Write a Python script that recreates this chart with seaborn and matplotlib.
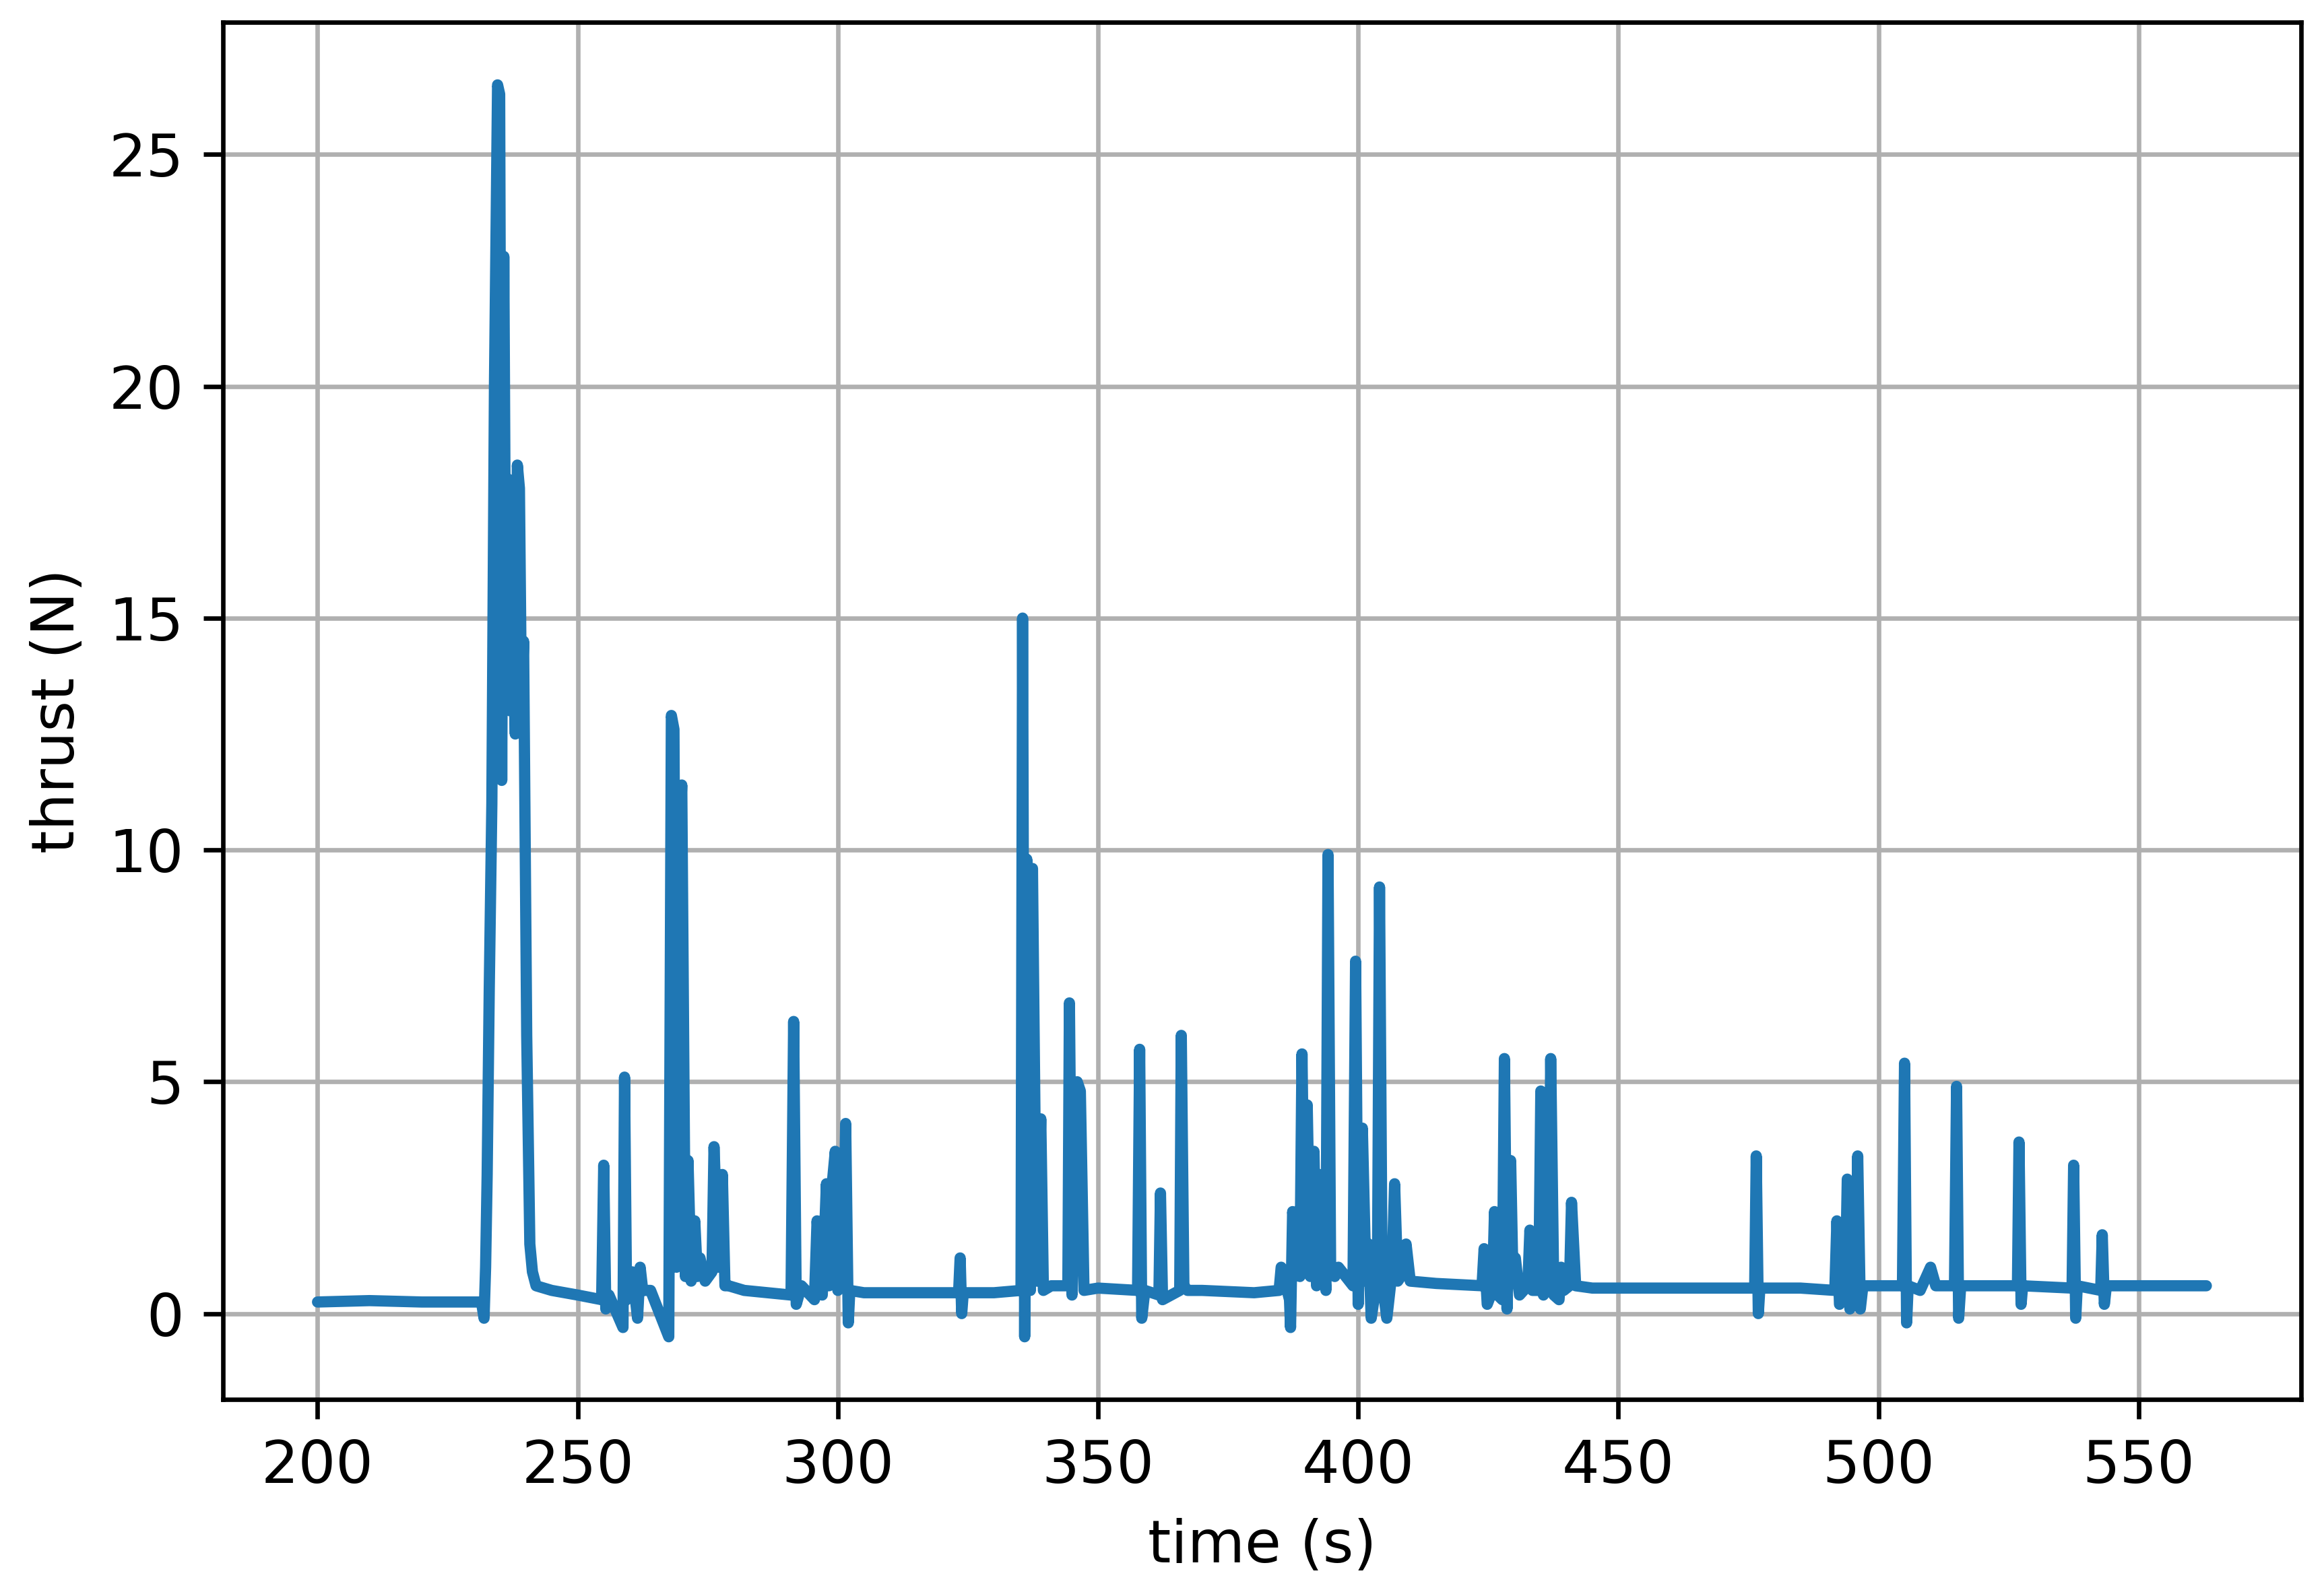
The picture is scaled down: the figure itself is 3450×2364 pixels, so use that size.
import numpy as np
import pandas as pd
import matplotlib
matplotlib.use("Agg")
import matplotlib.pyplot as plt
import seaborn as sns

# thrust trace (breakpoints of the spiky signal)
time_s = [200, 210, 220, 231.5, 232, 232.3, 232.6, 233, 233.5, 234, 234.6, 235, 235.4, 235.8, 236.2, 236.6,
          237, 237.5, 238, 238.4, 238.8, 239.2, 239.6, 240.2, 240.8, 241.3, 242, 245, 250,
          254.6, 255, 255.4, 256, 258.7, 259, 259.4, 260.5, 261.5, 262, 262.5, 264, 267.5, 268, 268.5,
          269, 269.5, 270, 270.7, 271.2, 271.8, 272.5, 273, 273.5, 274.5, 275.8, 276.2, 277, 277.8, 278.3,
          279, 282, 291, 291.5, 292, 293, 295.5, 296, 297, 297.8, 298.3, 299, 299.5, 300, 301, 301.5, 302, 302.3,
          305, 315, 323.2, 323.5, 323.8, 324.1, 330, 335.2, 335.5, 335.9, 336.3, 337, 337.4, 338.2, 339, 339.5,
          341, 344.2, 344.5, 345, 346, 346.6, 347.3, 350, 357.6, 358, 358.4, 359, 361.7, 362, 362.4, 365.7,
          366, 366.5, 367.2, 370, 380, 384.8, 385.2, 386.8, 387, 387.4, 388.8, 389.2, 389.7, 390.2, 390.8,
          391.5, 392, 392.5, 393.8, 394.2, 394.7, 395.5, 396.2, 399, 399.5, 400, 400.8, 401.5, 402, 402.5,
          403.7, 404.1, 404.6, 405.5, 406.5, 407, 407.6, 408.8, 409.2, 410, 415, 423.8, 424.2, 424.8, 425.8,
          426.2, 426.8, 427.7, 428.1, 428.6, 429.3, 429.7, 430.2, 431, 432.6, 433, 433.5, 434.7, 435.1, 435.6,
          436.6, 437, 437.6, 438.6, 439, 439.5, 440.6, 441, 441.8, 445, 460, 476.2, 476.5, 476.9, 477.2, 485,
          491.6, 492, 492.5, 493.6, 494, 494.5, 495.6, 496, 496.5, 497, 500, 504.6, 505, 505.4, 505.7, 508,
          510, 511, 514.6, 515, 515.4, 515.8, 520, 526.7, 527, 527.4, 527.7, 537.2, 537.5, 537.9, 538.2,
          542.7, 543, 543.4, 543.8, 550, 563]
thrust_n = [0.25, 0.28, 0.25, 0.25, -0.1, 1.0, 3.0, 7.0, 11.0, 20.0, 26.5, 26.3, 11.5, 22.8, 14.0, 18.0,
            13.0, 15.5, 12.5, 18.3, 17.8, 13.0, 14.5, 6.0, 1.5, 0.9, 0.6, 0.5, 0.4,
            0.3, 3.2, 0.1, 0.4, -0.3, 5.1, 0.3, 0.9, -0.1, 1.0, 0.5, 0.5, -0.5, 12.9, 12.6,
            1.0, 10.0, 11.4, 0.8, 3.3, 0.7, 2.0, 0.8, 1.2, 0.7, 0.9, 3.6, 1.0, 3.0, 0.6,
            0.6, 0.5, 0.4, 6.3, 0.2, 0.6, 0.3, 2.0, 0.4, 2.8, 0.6, 2.9, 3.5, 0.5, 0.8, 4.1, -0.2, 0.5,
            0.45, 0.45, 0.45, 1.2, 0.0, 0.45, 0.45, 0.5, 15.0, -0.5, 9.8, 0.5, 9.6, 0.7, 4.2, 0.5,
            0.6, 0.6, 6.7, 0.4, 5.0, 4.8, 0.5, 0.55, 0.5, 5.7, -0.1, 0.5, 0.4, 2.6, 0.3, 0.5,
            6.0, 0.6, 0.5, 0.5, 0.45, 0.5, 1.0, 0.3, -0.3, 2.2, 0.8, 5.6, 1.0, 4.5, 0.8,
            3.5, 0.6, 3.0, 0.5, 9.9, 1.0, 0.8, 1.0, 0.6, 7.6, 0.2, 4.0, 0.7, 1.5, -0.1,
            0.8, 9.2, 0.7, -0.1, 0.9, 2.8, 0.7, 0.9, 1.5, 0.7, 0.65, 0.6, 1.4, 0.2, 0.5,
            2.2, 0.4, 0.3, 5.5, 0.1, 3.3, 1.0, 1.2, 0.4, 0.6, 1.8, 0.5, 0.5, 4.8, 0.4,
            0.6, 5.5, 0.4, 0.3, 1.0, 0.5, 0.6, 2.4, 0.6, 0.55, 0.55, 0.55, 3.4, 0.0, 0.55, 0.55,
            0.5, 2.0, 0.2, 0.4, 2.9, 0.1, 0.4, 3.4, 0.1, 0.6, 0.6, 0.6, 5.4, -0.2, 0.6, 0.5,
            1.0, 0.6, 0.6, 4.9, -0.1, 0.6, 0.6, 0.6, 3.7, 0.2, 0.6, 0.55, 3.2, -0.1, 0.6,
            0.5, 1.7, 0.2, 0.6, 0.6, 0.6]

df = pd.DataFrame({"time (s)": time_s, "thrust (N)": thrust_n})

sns.set_style("ticks")
plt.rcParams.update({"font.size": 10.5, "text.color": "black",
                     "axes.labelcolor": "black", "xtick.color": "black", "ytick.color": "black"})
fig, ax = plt.subplots(figsize=(5.75, 3.94))
sns.lineplot(data=df, x="time (s)", y="thrust (N)", estimator=None, color="#1f77b4",
             linewidth=2, ax=ax)
ax.grid(True, color="#b0b0b0", linewidth=0.8)
ax.set_xticks(range(200, 551, 50))
ax.set_yticks(range(0, 26, 5))
for s in ax.spines.values():
    s.set_color("black")
ax.tick_params(labelsize=10.5)
ax.xaxis.label.set_size(10.5)
ax.yaxis.label.set_size(10.5)
fig.subplots_adjust(left=0.096, right=0.99, top=0.986, bottom=0.121)
fig.savefig("out.png", dpi=600)
